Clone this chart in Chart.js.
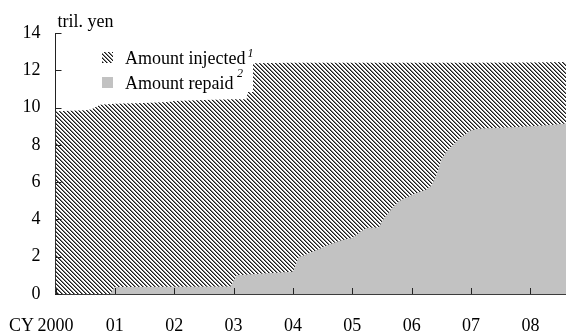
<!DOCTYPE html>
<html><head><meta charset="utf-8">
<script src="https://cdn.jsdelivr.net/npm/chart.js@4.4.0/dist/chart.umd.min.js"></script>
<style>html,body{margin:0;padding:0;background:#fff;overflow:hidden}#wrap{width:566px;height:334px;position:relative}</style>
</head><body><div id="wrap"><canvas id="c" width="566" height="334"></canvas></div>
<script>
// ---- data ----
const injectedYears  = [2000.0, 2000.5, 2000.6, 2000.75, 2001.0, 2001.5, 2001.9, 2002.0, 2002.5, 2003.0, 2003.22, 2003.3, 2004.0, 2005.0, 2006.0, 2007.0, 2008.0, 2008.6];
const injectedValues = [9.8,    9.85,   9.9,    10.15,   10.2,   10.25,  10.3,   10.35,  10.4,   10.45,  10.45,   12.38,  12.4,   12.4,   12.4,   12.4,   12.42,  12.45];
const repaidYears  = [2000.0, 2000.92, 2001.0, 2002.95, 2003.05, 2003.5, 2004.0, 2004.1, 2004.17, 2004.5, 2004.62, 2004.79, 2004.91, 2005.0, 2005.17, 2005.25, 2005.45, 2005.5, 2005.67, 2005.8, 2005.92, 2006.05, 2006.25, 2006.33, 2006.42, 2006.5, 2006.58, 2006.67, 2006.83, 2007.0, 2007.17, 2007.7, 2008.3, 2008.6];
const repaidValues = [0,      0,       0.38,   0.4,     1.0,     1.1,    1.2,    2.0,    2.05,    2.5,    2.67,    2.85,    2.95,    3.0,    3.4,     3.55,    3.57,    3.9,    4.6,     5.0,    5.17,    5.38,    5.6,     5.8,     6.4,     7.2,    7.6,     7.9,     8.4,     8.78,   8.88,    8.95,   9.05,   9.15];
const xTickYears  = [2000, 2001, 2002, 2003, 2004, 2005, 2006, 2007, 2008];
const xTickLabels = ['2000', '01', '02', '03', '04', '05', '06', '07', '08'];
const xAxisPrefix = 'CY';
const yTickValues = [0, 2, 4, 6, 8, 10, 12, 14];
const unitLabel = 'tril. yen';
const seriesNames = ['Amount injected', 'Amount repaid'];
const seriesNotes = ['1', '2'];

const FONT = '"Liberation Serif", "Times New Roman", serif';
const canvas = document.getElementById('c');
const mainCtx = canvas.getContext('2d');

function makeHatch() {
  const t = document.createElement('canvas');
  t.width = 4; t.height = 4;
  const g = t.getContext('2d');
  const img = g.createImageData(4, 4);
  for (let y = 0; y < 4; y++) for (let x = 0; x < 4; x++) {
    const d = ((x - y) % 4 + 4) % 4;
    let v = 255;
    if (d === 0) v = 25; else if (d === 1) v = 130;
    const i = (y * 4 + x) * 4;
    img.data[i] = v; img.data[i+1] = v; img.data[i+2] = v; img.data[i+3] = 255;
  }
  g.putImageData(img, 0, 0);
  return mainCtx.createPattern(t, 'repeat');
}
const hatch = makeHatch();
const GRAY = 'rgb(194,194,194)';

const deco = {
  id: 'deco',
  afterDraw(chart) {
    const { ctx, chartArea: a } = chart;
    const xs = chart.scales.x, ys = chart.scales.y;
    ctx.save();
    // inward tick marks
    ctx.strokeStyle = '#222'; ctx.lineWidth = 1;
    xTickYears.forEach(v => {
      const px = Math.round(xs.getPixelForValue(v)) + 0.5;
      ctx.beginPath(); ctx.moveTo(px, a.bottom); ctx.lineTo(px, a.bottom - 6); ctx.stroke();
    });
    yTickValues.forEach(v => {
      const py = Math.round(ys.getPixelForValue(v)) + 0.5;
      ctx.beginPath(); ctx.moveTo(a.left, py); ctx.lineTo(a.left + 6, py); ctx.stroke();
    });
    // unit label
    ctx.fillStyle = '#000';
    ctx.font = '18px ' + FONT;
    ctx.textBaseline = 'alphabetic'; ctx.textAlign = 'left';
    ctx.fillText(unitLabel, a.left + 2, 27);
    // CY prefix before first x label
    let ly = xs.top + 23 + 9, base = 'middle';
    try {
      const it = xs.getLabelItems()[0];
      if (it) { ly = it.options.translation[1] + (it.textOffset || 0); base = it.options.textBaseline || 'middle'; }
    } catch (e) {}
    const fx = xs.getPixelForValue(xTickYears[0]);
    const w0 = ctx.measureText(xTickLabels[0]).width;
    const ws = ctx.measureText(' ').width;
    ctx.textAlign = 'right'; ctx.textBaseline = base;
    ctx.fillText(xAxisPrefix, fx - w0 / 2 - ws + 1, ly);
    // legend
    ctx.fillStyle = '#fff';
    ctx.fillRect(95, 44, 158, 48);
    const rows = [{ y: 64, sw: 52, fill: hatch, sup: 57, gap: 2 }, { y: 89, sw: 77, fill: GRAY, sup: 77, gap: 3.5 }];
    rows.forEach((r, i) => {
      ctx.fillStyle = r.fill;
      ctx.fillRect(102, r.sw, 11, 11);
      ctx.fillStyle = '#000';
      ctx.font = '18px ' + FONT;
      ctx.textAlign = 'left'; ctx.textBaseline = 'alphabetic';
      ctx.fillText(seriesNames[i], 125, r.y);
      const w = ctx.measureText(seriesNames[i]).width;
      ctx.font = 'italic 12px ' + FONT;
      ctx.fillText(seriesNotes[i], 125 + w + r.gap, r.sup);
    });
    ctx.restore();
  }
};

new Chart(canvas, {
  type: 'line',
  data: {
    datasets: [
      { label: seriesNames[1], data: repaidYears.map((x, i) => ({ x, y: repaidValues[i] })),
        fill: 'origin', backgroundColor: GRAY, borderColor: 'rgba(0,0,0,0)', borderWidth: 0, pointRadius: 0, tension: 0 },
      { label: seriesNames[0], data: injectedYears.map((x, i) => ({ x, y: injectedValues[i] })),
        fill: 'origin', backgroundColor: hatch, borderColor: 'rgba(0,0,0,0)', borderWidth: 0, pointRadius: 0, tension: 0 }
    ]
  },
  options: {
    responsive: false, animation: false, devicePixelRatio: 1,
    layout: { padding: { left: 22, top: 33, right: 0, bottom: 0 } },
    plugins: { legend: { display: false }, tooltip: { enabled: false } },
    scales: {
      x: {
        type: 'linear', min: 2000, max: 2008.6, z: 1,
        afterBuildTicks: s => { s.ticks = xTickYears.map(v => ({ value: v })); },
        afterFit: s => { s.height = 40; },
        grid: { display: false, drawTicks: false },
        border: { display: true, color: '#3c3c3c', width: 2 },
        ticks: { padding: 23, color: '#000', maxRotation: 0, autoSkip: false,
          font: { family: FONT, size: 18, lineHeight: 1 },
          callback: (v, i) => xTickLabels[i] }
      },
      y: {
        min: 0, max: 14, z: 1,
        afterBuildTicks: s => { s.ticks = yTickValues.map(v => ({ value: v })); },
        afterFit: s => { s.width = 33.5; },
        grid: { display: false, drawTicks: false },
        border: { display: true, color: '#222', width: 1 },
        ticks: { padding: 15, color: '#000', font: { family: FONT, size: 18, lineHeight: 1 },
          callback: v => String(v) }
      }
    }
  },
  plugins: [deco]
});
</script>
</body></html>
